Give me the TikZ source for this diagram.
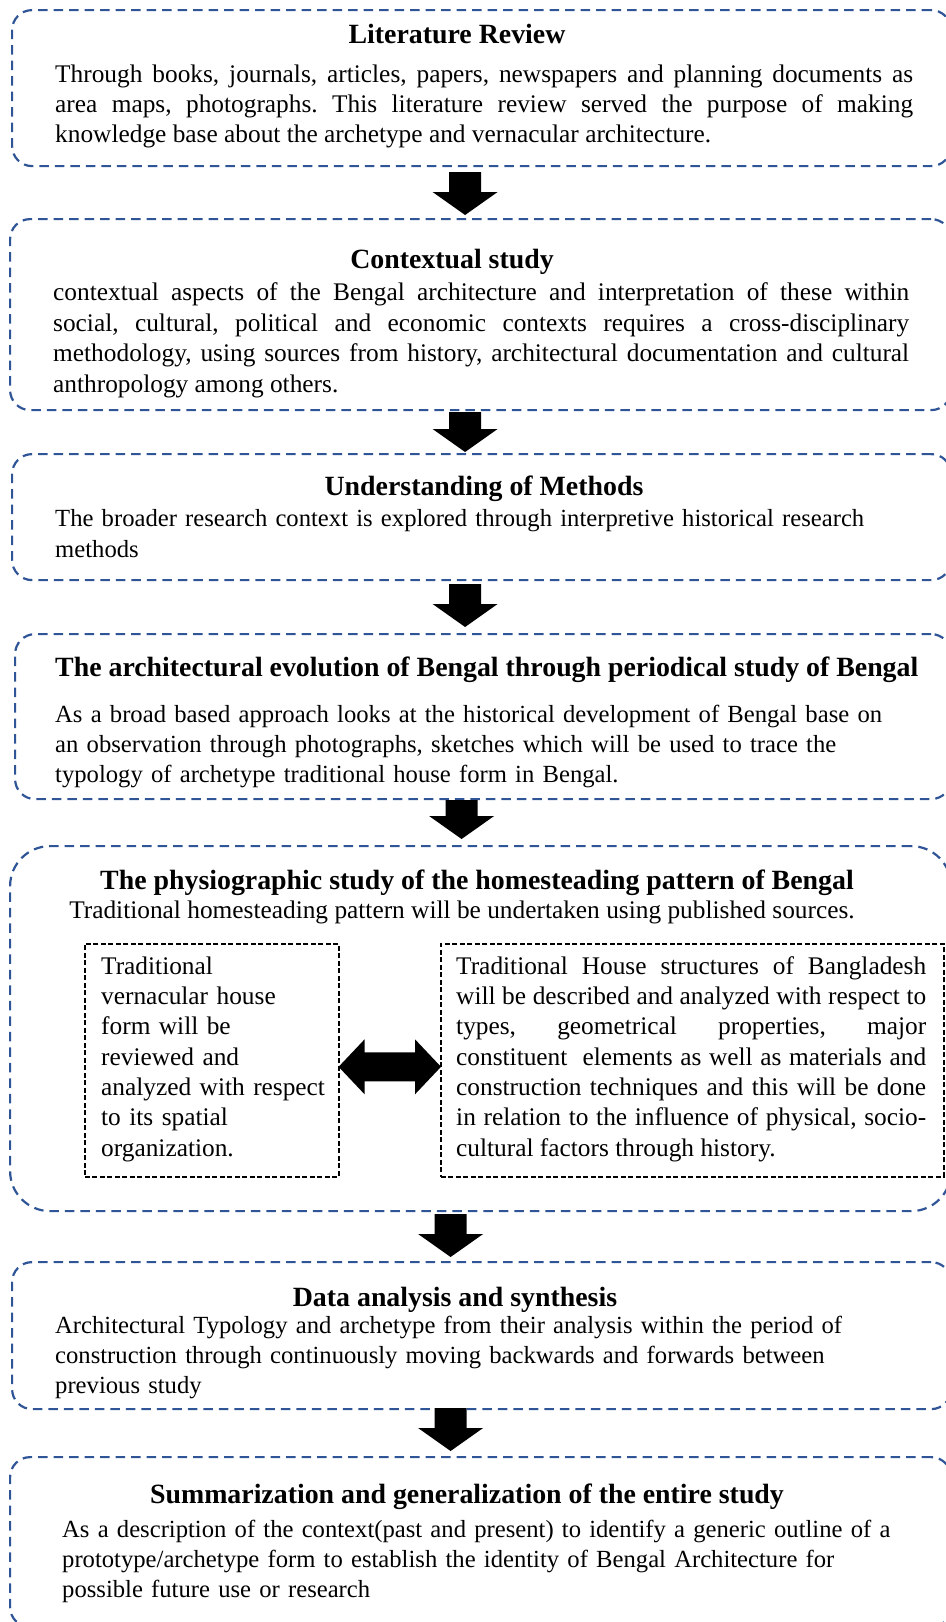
\documentclass[tikz,border=0pt]{standalone}
\usepackage{fontspec}
\setmainfont{Liberation Serif}
\usetikzlibrary{calc}

\definecolor{stageblue}{RGB}{47,85,151}

% text sizes
\newcommand{\bodysize}{\fontsize{25.35pt}{30.3pt}\selectfont}
\newcommand{\smallbodysize}{\fontsize{24.65pt}{30.3pt}\selectfont}
\newcommand{\headsize}{\fontsize{27.85pt}{32pt}\selectfont\bfseries}
% fixed first-line height so that a paragraph can be placed by its first baseline
\newcommand{\startpar}{\noindent\rule{0pt}{20pt}}

% downward block arrow from #1 (top of shaft) to #2 (tip)
\newcommand{\blkarrow}[2]{%
  \fill[arrowfill] ($(#1)+(-16,0)$) -- ($(#2)+(-16,-23)$) -- ($(#2)+(-32.5,-23)$)
    -- (#2) -- ($(#2)+(32.5,-23)$) -- ($(#2)+(16,-23)$) -- ($(#1)+(16,0)$) -- cycle;}

% horizontal double-headed block arrow between tips #1 (left) and #2 (right)
\newcommand{\dblarrow}[2]{%
  \fill[arrowfill] (#1) -- ($(#1)+(26,-27.5)$) -- ($(#1)+(26,-14.5)$)
    -- ($(#2)+(-26,-14.5)$) -- ($(#2)+(-26,-27.5)$) -- (#2)
    -- ($(#2)+(-26,27.5)$) -- ($(#2)+(-26,14.5)$)
    -- ($(#1)+(26,14.5)$) -- ($(#1)+(26,27.5)$) -- cycle;}

\tikzset{
  stage/.style={draw=stageblue, line width=2.2pt, dash pattern=on 9.5pt off 6pt,
    rounded corners=20pt, anchor=north west, inner sep=0pt},
  subbox/.style={draw=black, line width=1.6pt, dash pattern=on 5pt off 2.5pt,
    anchor=north west, inner sep=0pt},
  heading/.style={font=\headsize, anchor=base, inner sep=0pt},
  subheading/.style={font=\bodysize, anchor=base, inner sep=0pt},
  bodytext/.style={font=\bodysize, anchor=north west, inner sep=0pt, align=left},
  smalltext/.style={bodytext, font=\smallbodysize},
  justtext/.style={bodytext, align=justify},
  arrowfill/.style={fill=black},
}

\begin{document}
\frenchspacing
\begin{tikzpicture}[x=1pt, y=-1pt]
\hyphenpenalty=10000
\exhyphenpenalty=10000
\useasboundingbox (0,0) rectangle (945,1622);

% ---------- stage frames ----------
\node[stage, minimum width=939pt, minimum height=156pt] (b1) at (11,9) {};
\node[stage, minimum width=941pt, minimum height=191pt] (b2) at (9,218) {};
\node[stage, minimum width=939pt, minimum height=126pt] (b3) at (11,453) {};
\node[stage, minimum width=936pt, minimum height=165pt] (b4) at (14,633) {};
\node[stage, rounded corners=40pt, minimum width=941pt, minimum height=365pt] (b5) at (9,845) {};
\node[stage, minimum width=939pt, minimum height=147pt] (b6) at (11,1261) {};
\node[stage, minimum width=941pt, minimum height=170pt] (b7) at (9,1456) {};

% ---------- inner frames of the homesteading stage ----------
\node[subbox, minimum width=254pt, minimum height=233pt] (inl) at (84,943) {};
\node[subbox, minimum width=503pt, minimum height=233pt] (inr) at (440,943) {};

% ---------- 1: literature review ----------
\node[heading] (h1) at (457,43) {Literature Review};
\node[justtext, text width=858pt] (p1) at (55,62) {\startpar Through books, journals, articles, papers, newspapers and planning documents as\linebreak area maps, photographs. This literature review served the purpose of making\linebreak knowledge base about the archetype and vernacular architecture.};

% ---------- 2: contextual study ----------
\node[heading] (h2) at (452,268) {Contextual study};
\node[justtext, text width=856pt, font=\fontsize{25.35pt}{30.8pt}\selectfont] (p2) at (53,280) {\startpar contextual aspects of the Bengal architecture and interpretation of these within\linebreak social, cultural, political and economic contexts requires a cross-disciplinary\linebreak methodology, using sources from history, architectural documentation and cultural\linebreak anthropology among others.};

% ---------- 3: methods ----------
\node[heading] (h3) at (484,495) {Understanding of Methods};
\node[smalltext, text width=880pt, font=\fontsize{24.65pt}{31.5pt}\selectfont] (p3) at (55,506) {\startpar The broader research context is explored through interpretive historical research\\ methods};

% ---------- 4: architectural evolution ----------
\node[heading, anchor=base west] (h4) at (55,676) {The architectural evolution of Bengal through periodical study of Bengal};
\node[smalltext, text width=870pt] (p4) at (55,702) {\startpar As a broad based approach looks at the historical development of Bengal base on\\ an observation through photographs, sketches which will be used to trace the\\ typology of archetype traditional house form in Bengal.};

% ---------- 5: physiographic study ----------
\node[heading] (h5) at (477,889) {The physiographic study of the homesteading pattern of Bengal};
\node[subheading] (s5) at (462,918) {Traditional homesteading pattern will be undertaken using published sources.};
\node[bodytext, text width=235pt] (pl) at (101,954) {\startpar Traditional\\ vernacular house\\ form will be\\ reviewed and\\ analyzed with respect\\ to its spatial\\ organization.};
\node[justtext, text width=470pt] (pr) at (456,954) {\startpar Traditional House structures of Bangladesh\linebreak will be described and analyzed with respect to\linebreak types, geometrical properties, major\linebreak constituent\ \ elements as well as materials and\linebreak construction techniques and this will be done\linebreak in relation to the influence of physical, socio-\linebreak{}cultural factors through history.};

% ---------- 6: data analysis ----------
\node[heading] (h6) at (455,1306) {Data analysis and synthesis};
\node[smalltext, text width=870pt] (p6) at (55,1313) {\startpar Architectural Typology and archetype from their analysis within the period of\\ construction through continuously moving backwards and forwards between\\ previous study};

% ---------- 7: summarization ----------
\node[heading] (h7) at (467,1503) {Summarization and generalization of the entire study};
\node[smalltext, text width=870pt] (p7) at (62,1517) {\startpar As a description of the context(past and present) to identify a generic outline of a\\ prototype/archetype form to establish the identity of Bengal Architecture for\\ possible future use or research};

% ---------- flow arrows between stages ----------
\coordinate (a1s) at ($(b1.south)+(-16.5,5)$);
\coordinate (a1e) at ($(a1s |- b2.north)+(0,-3)$);
\coordinate (a2s) at ($(b2.south)+(-15.5,1)$);
\coordinate (a2e) at ($(a2s |- b3.north)+(0,-1)$);
\coordinate (a3s) at ($(b3.south)+(-16.5,3)$);
\coordinate (a3e) at ($(a3s |- b4.north)+(0,-6)$);
\coordinate (a4s) at ($(b4.south)+(-21.5,0)$);
\coordinate (a4e) at ($(a4s |- b5.north)+(0,-6)$);
\coordinate (a5s) at ($(b5.south)+(-30,2)$);
\coordinate (a5e) at ($(a5s |- b6.north)+(0,-4)$);
\coordinate (a6s) at ($(b6.south)+(-31,-2)$);
\coordinate (a6e) at ($(a6s |- b7.north)+(0,-5)$);
\blkarrow{a1s}{a1e}
\blkarrow{a2s}{a2e}
\blkarrow{a3s}{a3e}
\blkarrow{a4s}{a4e}
\blkarrow{a5s}{a5e}
\blkarrow{a6s}{a6e}

% ---------- link between the two inner frames ----------
\coordinate (dl) at ($(inl.east)+(-1,6.5)$);
\coordinate (dr) at ($(inr.west)+(1,6.5)$);
\dblarrow{dl}{dr}
\end{tikzpicture}
\end{document}
